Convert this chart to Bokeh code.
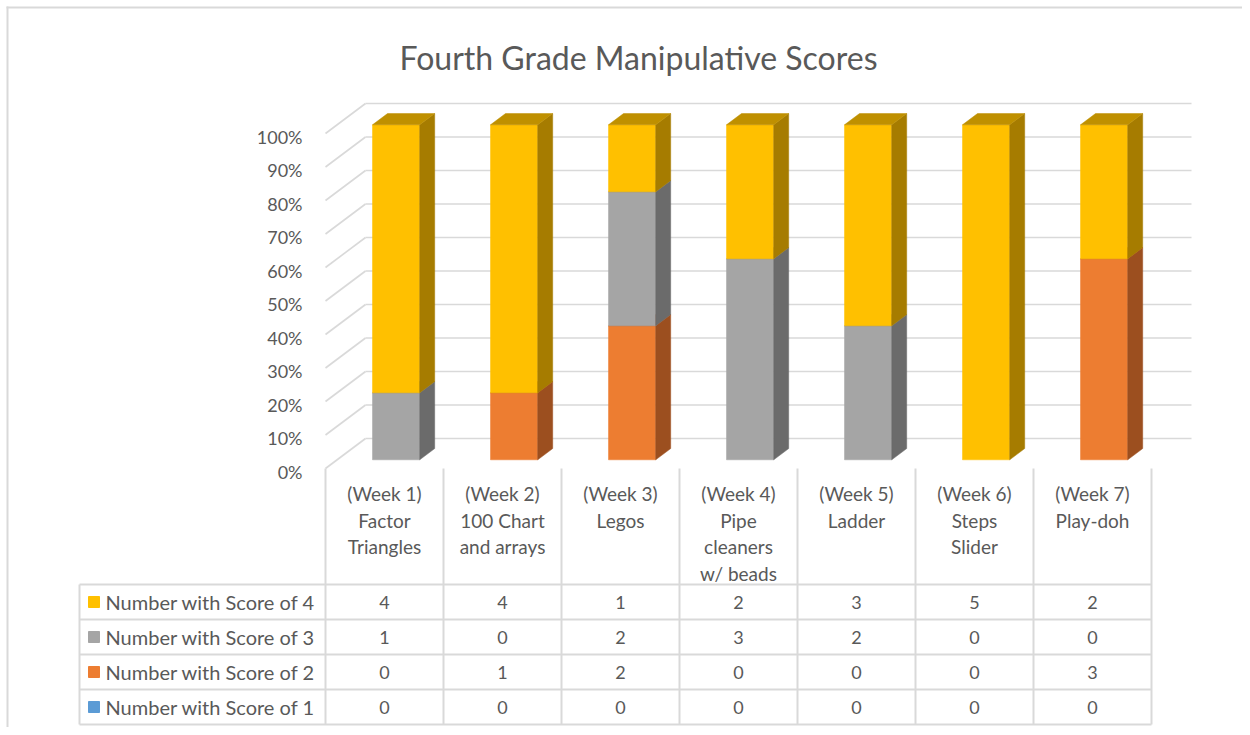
from bokeh.plotting import figure
from bokeh.models import Range1d
from bokeh.core.properties import value
from bokeh.embed import file_html
from bokeh.resources import INLINE

# ---------------- data ----------------
title = "Fourth Grade Manipulative Scores"
categories = [
    "(Week 1)\nFactor\nTriangles",
    "(Week 2)\n100 Chart\nand arrays",
    "(Week 3)\nLegos",
    "(Week 4)\nPipe\ncleaners\nw/ beads",
    "(Week 5)\nLadder",
    "(Week 6)\nSteps\nSlider",
    "(Week 7)\nPlay-doh",
]
series_names = ["Number with Score of 4", "Number with Score of 3",
                "Number with Score of 2", "Number with Score of 1"]
score4 = [4, 4, 1, 2, 3, 5, 2]
score3 = [1, 0, 2, 3, 2, 0, 0]
score2 = [0, 1, 2, 0, 0, 0, 3]
score1 = [0, 0, 0, 0, 0, 0, 0]
y_ticks = [0.0, 0.1, 0.2, 0.3, 0.4, 0.5, 0.6, 0.7, 0.8, 0.9, 1.0]
y_tick_labels = ["0%", "10%", "20%", "30%", "40%", "50%", "60%", "70%", "80%", "90%", "100%"]

# ---------------- styles ----------------
front_col = ["#FFC000", "#A5A5A5", "#ED7D31", "#5B9BD5"]
side_col = ["#A67C00", "#6B6B6B", "#9C4F1F", "#3B6E9E"]
top_col = ["#BF9000", "#8A8A8A", "#C5642A", "#4A84BE"]
TEXT = "#595959"
GRID = "#D9D9D9"
FONT = value("Lato")

# pixel geometry (canvas px)
W, H = 1242, 727
OX, OY = 325, 468          # front-left floor corner
SX, SY = 118.0, 335.0      # px per category / per 100 %
DX_PX, DY_PX = 40.0, 30.0  # depth offset front->back wall

def X(px):
    return (px - OX) / SX

def Y(py):
    return (OY - py) / SY

x0 = X(0); x1 = x0 + W / SX
y1 = Y(0); y0 = y1 - H / SY

ddx, ddy = DX_PX / SX, DY_PX / SY

p = figure(width=W, height=H, x_range=Range1d(x0, x1), y_range=Range1d(y0, y1),
           x_axis_location=None, y_axis_location=None, toolbar_location=None,
           output_backend="svg", min_border=0, outline_line_color=None)
p.grid.visible = False
p.background_fill_color = "white"
p.border_fill_color = "white"

# outer border (left & top)
p.segment(x0=[X(7), X(6)], y0=[Y(6), Y(7)], x1=[X(7), X(W)], y1=[Y(H), Y(7)],
          line_color=GRID, line_width=2)

n = len(categories)

# back wall gridlines & left wall diagonals
p.segment(x0=[0 + ddx] * len(y_ticks), y0=[t + ddy for t in y_ticks],
          x1=[n + ddx] * len(y_ticks), y1=[t + ddy for t in y_ticks],
          line_color=GRID, line_width=1.6)
p.segment(x0=[0] * len(y_ticks), y0=y_ticks,
          x1=[ddx] * len(y_ticks), y1=[t + ddy for t in y_ticks],
          line_color=GRID, line_width=1.6)

# y tick labels
p.text(x=[X(302)] * len(y_ticks), y=[t - 3 / SY for t in y_ticks], text=y_tick_labels,
       text_align="right", text_baseline="middle", text_font=FONT,
       text_font_size="18px", text_color=TEXT)

# ---------------- 3D stacked 100% bars ----------------
series = [score4, score3, score2, score1]
stack_order = [3, 2, 1, 0]   # bottom -> top: score1, score2, score3, score4
BAR_W = 0.4
D_FRONT, D_BACK = 0.29, 0.665
xs, ys, cols = [], [], []
for i in range(n):
    total = sum(s[i] for s in series)
    base = 0.0
    for k in stack_order:
        v = series[k][i] / total
        if v <= 0:
            continue
        b, t = base, base + v
        base = t
        ox, oy = D_FRONT * ddx, D_FRONT * ddy
        bx, by = (D_BACK - D_FRONT) * ddx, (D_BACK - D_FRONT) * ddy
        xl = i + 0.5 - BAR_W / 2 + ox
        xr = xl + BAR_W
        yb, yt = b + oy, t + oy
        xs.append([xl, xr, xr, xl]); ys.append([yb, yb, yt, yt]); cols.append(front_col[k])
        xs.append([xr, xr + bx, xr + bx, xr]); ys.append([yb, yb + by, yt + by, yt]); cols.append(side_col[k])
        xs.append([xl, xr, xr + bx, xl + bx]); ys.append([yt, yt, yt + by, yt + by]); cols.append(top_col[k])
p.patches(xs=xs, ys=ys, fill_color=cols, line_color=cols, line_width=0.5)

# ---------------- title ----------------
p.text(x=[X(638)], y=[Y(57)], text=[title], text_align="center", text_baseline="middle",
       text_font=FONT, text_font_size="32px", text_color=TEXT)

# ---------------- data table ----------------
HEADER_BOTTOM = 584
ROW_H = 35
LEFT = 79
row_edges = [Y(HEADER_BOTTOM + r * ROW_H) for r in range(len(series_names) + 1)]
p.segment(x0=[X(LEFT)] * len(row_edges), y0=row_edges, x1=[n] * len(row_edges), y1=row_edges,
          line_color=GRID, line_width=2)
p.segment(x0=list(range(n + 1)), y0=[Y(OY)] * (n + 1), x1=list(range(n + 1)),
          y1=[row_edges[-1]] * (n + 1), line_color=GRID, line_width=2)
p.segment(x0=[X(LEFT)], y0=[row_edges[0]], x1=[X(LEFT)], y1=[row_edges[-1]],
          line_color=GRID, line_width=2)

# header (category) text
hx, hy, ht = [], [], []
for i, c in enumerate(categories):
    for j, line in enumerate(c.split("\n")):
        hx.append(i + 0.5); hy.append(Y(493 + j * 26.7)); ht.append(line)
p.text(x=hx, y=hy, text=ht, text_align="center", text_baseline="middle",
       text_font=FONT, text_font_size="19px", text_color=TEXT)

# rows
rc = [(row_edges[r] + row_edges[r + 1]) / 2 for r in range(len(series_names))]
p.scatter(x=[X(93.5)] * len(series_names), y=rc, marker="square", size=11,
          fill_color=front_col, line_color=front_col)
p.text(x=[X(105)] * len(series_names), y=rc, text=series_names, text_align="left",
       text_baseline="middle", text_font=FONT, text_font_size="20px", text_color=TEXT)
vx, vy, vt = [], [], []
for r, s in enumerate(series):
    for i in range(n):
        vx.append(i + 0.5); vy.append(rc[r]); vt.append(str(s[i]))
p.text(x=vx, y=vy, text=vt, text_align="center", text_baseline="middle",
       text_font=FONT, text_font_size="18px", text_color=TEXT)

open("out.html", "w").write(file_html(p, INLINE))
